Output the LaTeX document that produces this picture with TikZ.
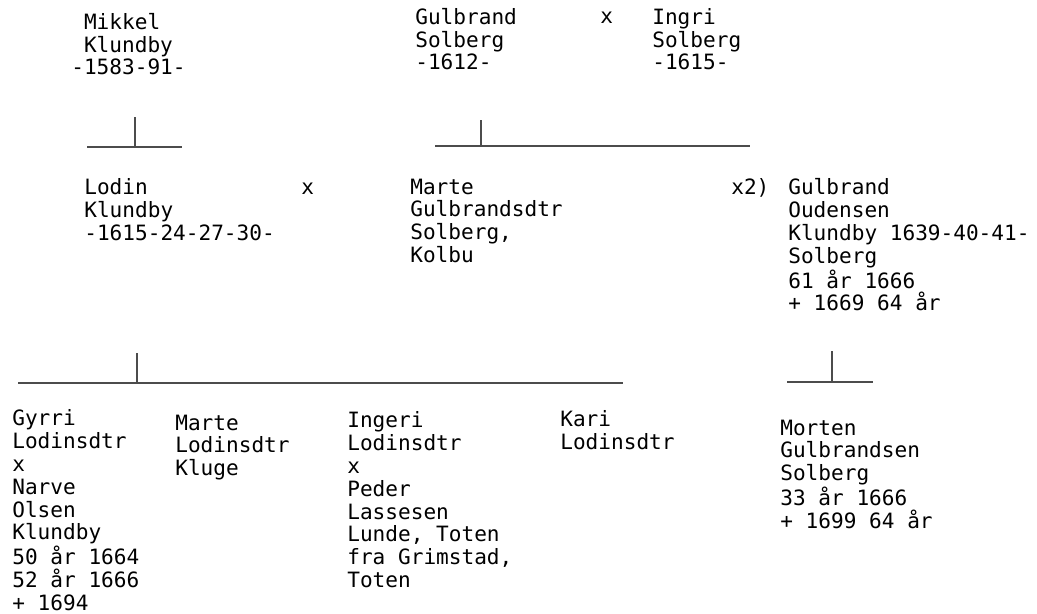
\documentclass[tikz,border=0pt]{standalone}
\usepackage{fontspec}
\setmonofont{DejaVu Sans Mono}
\tikzset{
	txt/.style={inner sep=0pt, align=left, font=\ttfamily\fontsize{12}{13}\selectfont},
	person/.style={txt, anchor=north west, yshift=0.314cm},
	link/.style={txt, anchor=base west},
	famline/.style={line width=0.9pt, black!70}
}
\begin{document}
\begin{tikzpicture}[x=0.02cm, y=-0.02cm]
		\useasboundingbox (0,0) rectangle (1037,613);
		%first generation
		\node[person] (mikkel) at (71, 28.5){\hphantom{-}Mikkel\\\hphantom{-}Klundby\\-1583-91-};
		\node[person] (gulbrand) at (415, 23.5){Gulbrand\\Solberg\\-1612-};
		\node[link] (xtop) at (600, 23.5){x};
		\node[person] (ingri) at (652, 23.5){Ingri\\Solberg\\-1615-};
		
		%second generation
		\node[person] (lodin) at (84, 194){Lodin\\Klundby\\-1615-24-27-30-};
		\node[link] (xmid) at (301, 194){x};
		\node[person] (marte) at (410, 194){Marte\\Gulbrandsdtr\\Solberg,\\Kolbu};
		\node[link] (xtwo) at (731, 194){x2)};
		\node[person] (oudensen) at (788, 194){Gulbrand\\Oudensen\\Klundby 1639-40-41-\\Solberg\\61 år 1666\\+ 1669 64 år};
		
		%children
		\node[person] (gyrri) at (12, 425){Gyrri\\Lodinsdtr\\x\\Narve\\Olsen\\Klundby\\50 år 1664\\52 år 1666\\+ 1694};
		\node[person] (martel) at (175, 430){Marte\\Lodinsdtr\\Kluge};
		\node[person] (ingeri) at (347, 427){Ingeri\\Lodinsdtr\\x\\Peder\\Lassesen\\Lunde, Toten\\fra Grimstad,\\Toten};
		\node[person] (kari) at (560, 426){Kari\\Lodinsdtr};
		\node[person] (morten) at (780, 435){Morten\\Gulbrandsen\\Solberg\\33 år 1666\\+ 1699 64 år};
		
		%brackets
		\foreach \name/\xm/\yt/\yb/\xl/\xr in {mikkel/135/117/147/87/182, gulbrand/481/120/146/435/750, lodin/137/353/383/18/623, oudensen/832/351/382/787/873}{
			\coordinate (\name top) at (\xm, \yt);
			\coordinate (\name join) at (\xm, \yb);
			\coordinate (\name left) at (\xl, \yb);
			\coordinate (\name right) at (\xr, \yb);
			\draw[famline] (\name left)--(\name right);
			\draw[famline] (\name top)--(\name join);
		}
\end{tikzpicture}
\end{document}
